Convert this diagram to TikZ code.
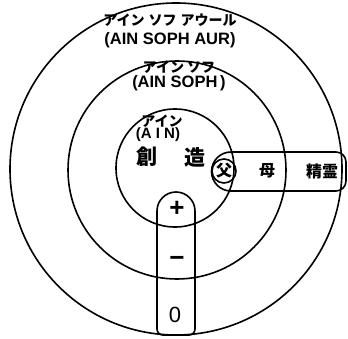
\documentclass[tikz,border=0pt]{standalone}
\usepackage{fontspec}
\setmainfont{Noto Sans CJK JP}
\newfontfamily\jp{Noto Sans CJK JP}
\newfontfamily\lat{Liberation Sans}
\begin{document}
\begin{tikzpicture}[x=1pt,y=1pt,line width=1.6pt,
  kana/.style={font=\jp\bfseries\fontsize{14}{14}\selectfont,inner sep=0pt},
  latin/.style={font=\lat\bfseries\fontsize{16.5}{16.5}\selectfont,inner sep=0pt},
  big/.style={font=\jp\bfseries\fontsize{21}{21}\selectfont,inner sep=0pt},
  mid/.style={font=\jp\bfseries\fontsize{16}{16}\selectfont,inner sep=0pt},
  sign/.style={font=\lat\bfseries\fontsize{26}{26}\selectfont,inner sep=0pt}]
\useasboundingbox (0,0) rectangle (348,338);
% circles
\draw (176,169) circle (166);
\draw (177,168) circle (109);
\draw (175,170) circle (59);
% horizontal bar
\draw (231,186) arc (90:270:19.5) -- (336,147) arc (-90:0:10) -- (346,176) arc (0:90:10) -- cycle;
\draw (224,167) circle (12);
% vertical bar
\draw (157,127) arc (180:0:19) -- (195,9) arc (0:-90:6) -- (163,3) arc (270:180:6) -- cycle;
% texts
\node[kana] (t1) at (170,318) {アイン\hspace{4pt}ソフ\hspace{4pt}アウール};
\node[latin] (t2) at (170,298) {(AIN SOPH AUR)};
\node[kana] (t3) at (179,271) {アイン\hspace{3pt}ソフ};
\node[latin] (t4) at (179,255) {(AIN SOPH\,)};
\node[kana] (t5) at (162,217) {アイン};
\node[latin,font=\lat\bfseries\fontsize{15}{15}\selectfont] (t6) at (158,203) {(A I N)};
\node[big] (c1) at (147,181) {創};
\node[big] (c2) at (195,181) {造};
\node[mid] (f) at (224,167) {父};
\node[mid] (m) at (267,167) {母};
\node[mid] (s) at (322,167) {精霊};
\node[sign] (plus) at (177,129) {+};
\node[sign] (minus) at (177,77) {−};
\node[font=\lat\fontsize{22}{22}\selectfont,inner sep=0pt] (zero) at (175,23) {0};
\end{tikzpicture}
\end{document}
